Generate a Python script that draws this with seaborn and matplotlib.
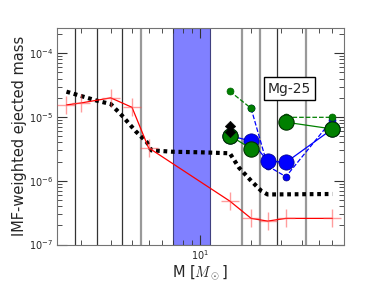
"""
IMF-weighted ejected mass of Mg-25 versus initial stellar mass
"""

import numpy as np
import seaborn as sns
import matplotlib.pyplot as plt

# -------------------------
# data
# -------------------------
mass_model = [1.65, 2.5, 3.0, 3.5, 4.2, 4.9, 5.2, 7.0, 10.0, 15.0, 17.0, 20.0, 23.0, 25.0, 60.0]
yield_model = [2.5e-5, 1.8e-5, 1.6e-5, 1.05e-5, 6.0e-6, 4.0e-6, 3.0e-6, 2.85e-6,
               2.8e-6, 2.7e-6, 1.6e-6, 1.0e-6, 6.9e-7, 6.1e-7, 6.2e-7]

mass_red = [1.65, 2.0, 3.0, 4.0, 5.0, 15.0, 20.0, 25.0, 32.0, 60.0]
yield_red = [1.55e-5, 1.66e-5, 2.0e-5, 1.42e-5, 3.3e-6, 4.8e-7, 2.57e-7, 2.33e-7, 2.57e-7, 2.57e-7]

mass_massive = [15.0, 20.0, 25.0, 32.0, 60.0]
green_big = [5.1e-6, 3.2e-6, np.nan, 8.3e-6, 6.5e-6]
green_small = [2.54e-5, 1.37e-5, np.nan, 9.9e-6, 9.9e-6]
blue_big = [5.1e-6, 4.2e-6, 2.05e-6, 1.94e-6, 6.5e-6]
blue_small = [np.nan, 1.37e-5, 1.71e-6, 1.16e-6, 9.1e-6]

mass_black = [15.0, 15.0]
yield_black = [7.2e-6, 5.9e-6]

dark_lines = [1.84, 2.5, 3.5, 28.5]
gray_lines = [4.5, 17.6, 22.5, 42.0]
span_lo, span_hi = 7.0, 11.5

# -------------------------
# figure
# -------------------------
sns.set_style("ticks")
plt.rcParams["font.family"] = ["DejaVu Sans"]

fig = plt.figure(figsize=(3.82, 2.88), dpi=100)
ax = fig.add_axes([0.149, 0.151, 0.751, 0.752])

ax.axvspan(span_lo, span_hi, facecolor="#8080ff", edgecolor="#404080", lw=0.8, zorder=0)
for m in dark_lines:
    ax.axvline(m, color="k", lw=0.9, alpha=0.8, zorder=1)
for m in gray_lines:
    ax.axvline(m, color="0.6", lw=1.6, zorder=1)

# model curve
sns.lineplot(x=mass_model, y=yield_model, color="k", lw=3, ax=ax,
             linestyle=(0, (0.9, 0.9)), zorder=3)

# red low/intermediate mass curve
sns.lineplot(x=mass_red, y=yield_red, color="red", lw=0.9, ax=ax, zorder=3)
ax.plot(mass_red, yield_red, ls="none", marker="+", ms=13, mew=1,
        color=(1, 0.3, 0.3, 0.55), zorder=3)

# massive star yields
ax.plot(mass_massive, blue_small, ls="--", lw=0.9, color="blue",
        marker="o", ms=5, mec="navy", mew=0.5, zorder=4)
ax.plot(mass_massive, blue_big, ls="-", lw=0.9, color="blue",
        marker="o", ms=11, mec="navy", mew=0.5, zorder=4)
ax.plot(mass_massive, green_small, ls="--", lw=0.9, color="green",
        marker="o", ms=5, mec="darkgreen", mew=0.5, zorder=5)
ax.plot(mass_massive, green_big, ls="-", lw=0.9, color="green",
        marker="o", ms=11, mec="#003000", mew=0.8, zorder=5)
sns.scatterplot(x=mass_black, y=yield_black, color="k", marker="D", s=28,
                edgecolor="k", ax=ax, zorder=6)

ax.set_xscale("log")
ax.set_yscale("log")
ax.set_xlim(1.45, 70)
ax.set_ylim(1e-7, 2.5e-4)

ax.tick_params(which="both", direction="in", top=True, right=True, labelsize=7,
               color="0.2")
ax.tick_params(which="major", length=7, pad=3)
ax.tick_params(which="minor", length=3.5)
for s in ax.spines.values():
    s.set_color("0.45")

ax.set_xlabel(r"M [$M_\odot$]", fontsize=10.5, math_fontfamily="cm", labelpad=1)
ax.set_ylabel("IMF-weighted ejected mass", fontsize=10.5)
ax.yaxis.set_label_coords(-0.105, 0.5)

ax.text(0.81, 0.72, "Mg-25", transform=ax.transAxes, fontsize=10,
        ha="center", va="center", zorder=7,
        bbox=dict(facecolor="white", edgecolor="k", boxstyle="square,pad=0.3"))

fig.savefig("out.png", dpi=100)
